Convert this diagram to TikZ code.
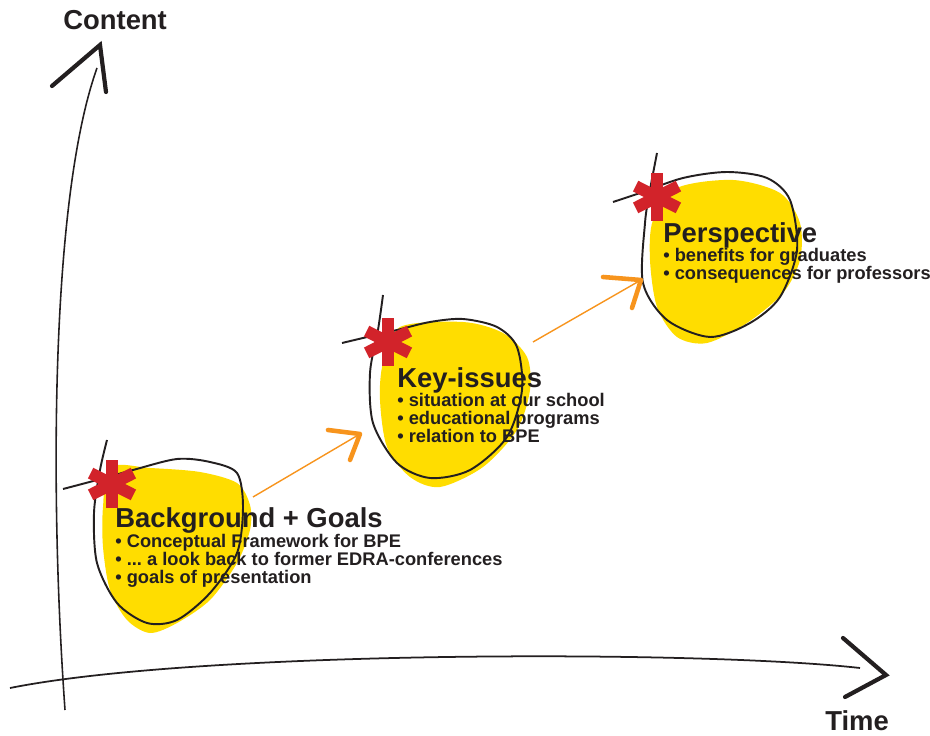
\documentclass[tikz,border=0pt]{standalone}
\usepackage{fontspec}
\setmainfont{Liberation Sans}
\definecolor{blobyellow}{HTML}{FFDD00}
\definecolor{starred}{HTML}{D2232A}
\definecolor{steporange}{HTML}{F7941D}
\definecolor{inkgray}{HTML}{231F20}
\tikzset{
  headline/.style={anchor=base west, inner sep=0pt, text=inkgray,
    font=\fontsize{15.6}{16}\selectfont\bfseries},
  itemline/.style={anchor=base west, inner sep=0pt, text=inkgray,
    font=\fontsize{10.4}{10.24}\selectfont\bfseries},
  blobline/.style={inkgray, line width=1.1pt},
  starbar/.style={starred, line width=6.8pt},
  stepline/.style={steporange, line width=0.8pt},
  chevron/.style={steporange, line width=2.6pt, line cap=round, line join=round},
  axishead/.style={inkgray, line width=2.4pt, line cap=round}
}

\begin{document}
\begin{tikzpicture}[x=0.02cm,y=-0.02cm]
  \useasboundingbox (0,0) rectangle (930,736);
  % axes
  \coordinate (ybot) at (65,710);
  \coordinate (ytop) at (97,68);
  \coordinate (xleft) at (10,688);
  \coordinate (xright) at (860,668);
  \draw[inkgray, line width=0.9pt] (ybot) .. controls (50,500) and (50,200) .. (ytop);
  \draw[inkgray, line width=1pt] (xleft) .. controls (200,650) and (700,650) .. (xright);
  \draw[axishead] (52,86) -- (100,45) -- (106,92);
  \draw[axishead] (843,638) -- (886,675) -- (845,697);
  \node[headline] (content) at (63,30) {Content};
  \node[headline] (time) at (825,730) {Time};

  % blobs
  \fill[blobyellow] plot[smooth cycle] coordinates {(110,467) (150,468) (200,472)
    (237,483) (250,505) (250,530) (237,563) (210,600) (177,623) (150,633)
    (127,620) (110,590) (103,547) (103,507)};
  \fill[blobyellow] plot[smooth cycle] coordinates {(400,327) (463,322) (503,333)
    (527,357) (530,390) (517,430) (483,467) (440,487) (410,477) (387,447)
    (380,400) (383,363)};
  \fill[blobyellow] plot[smooth cycle] coordinates {(677,188) (733,180) (780,193)
    (800,223) (800,260) (783,293) (747,323) (707,343) (677,337) (657,307)
    (650,260) (653,220)};
  \draw[blobline] plot[smooth] coordinates {(107,440) (100,470) (94,513) (97,563)
    (117,603) (147,623) (177,620) (210,593) (237,553) (243,507) (237,473)
    (210,462) (177,459) (133,470) (97,480) (63,489)};
  \draw[blobline] plot[smooth] coordinates {(383,295) (378,330) (370,373) (373,423)
    (397,463) (430,478) (470,470) (507,437) (522,390) (517,347) (497,327)
    (463,319) (430,322) (397,330) (363,338) (342,343)};
  \draw[blobline] plot[smooth] coordinates {(657,153) (650,190) (645,223) (643,283)
    (667,320) (710,337) (750,323) (780,297) (797,250) (790,200) (767,178)
    (727,172) (683,178) (640,193) (613,202)};

  % stars
  \foreach \cx/\cy in {112/484, 388/342, 657/197}
    \foreach \a in {90,27,-27}
      \draw[starbar, shift={(\cx,\cy)}] (\a:24) -- (\a+180:24);

  % steps
  \coordinate (bg-out) at (253,497);
  \coordinate (key-in) at (360,434);
  \coordinate (key-out) at (533,342);
  \coordinate (persp-in) at (641,280);
  \draw[stepline] (bg-out) -- (key-in);
  \draw[stepline] (key-out) -- (persp-in);
  \draw[chevron] (328,430) -- (key-in) -- (350,460);
  \draw[chevron] (603,277) -- (persp-in) -- (632,308);

  % texts
  \node[headline] (bg) at (115,527) {Background + Goals};
  \node[itemline] (bg-1) at (115,547) {• Conceptual Framework for BPE};
  \node[itemline] (bg-2) at (115,565) {• ...\ a look back to former EDRA-conferences};
  \node[itemline] (bg-3) at (115,583) {• goals of presentation};
  \node[headline] (key) at (397,388) {Key-issues};
  \node[itemline] (key-1) at (397,407) {• situation at our school};
  \node[itemline] (key-2) at (397,425) {• educational programs};
  \node[itemline] (key-3) at (397,443) {• relation to BPE};
  \node[headline] (persp) at (663,243) {Perspective};
  \node[itemline] (persp-1) at (663,262) {• benefits for graduates};
  \node[itemline] (persp-2) at (663,280) {• consequences for professors};
\end{tikzpicture}
\end{document}
